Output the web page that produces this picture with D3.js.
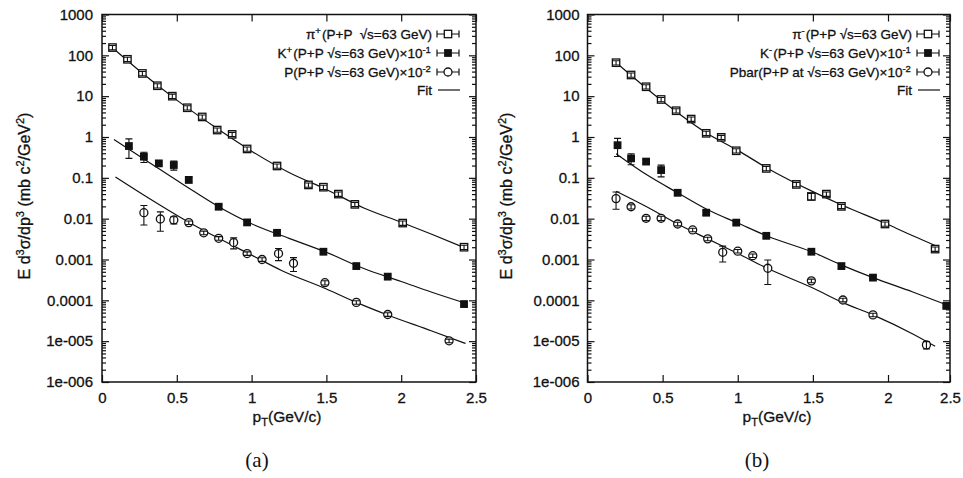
<!DOCTYPE html>
<html>
<head>
<meta charset="utf-8">
<script src="https://cdn.jsdelivr.net/npm/d3@7"></script>
<style>
body { margin: 0; background: #fff; }
svg text { font-family: "Liberation Sans", Arial, sans-serif; fill: #111; }
svg text.ink { stroke: #111; stroke-width: 0.3; }
</style>
</head>
<body>
<svg id="chart" width="963" height="478"></svg>
<script>
// values

// (a) pi+, K+ (x1e-1), p (x1e-2), P+P at sqrt(s)=63 GeV
var ptPiPlus  = [0.07, 0.17, 0.27, 0.37, 0.47, 0.57, 0.67, 0.77, 0.87, 0.97, 1.17, 1.38, 1.48, 1.58, 1.69, 2.01, 2.42];
var piPlus    = [155, 80, 36, 18, 10, 5.2, 3.1, 1.48, 1.16, 0.51, 0.195, 0.067, 0.059, 0.040, 0.0224, 0.0078, 0.0020];
var piPlusErr = [0.12, 0.12, 0.12, 0.12, 0.12, 0.12, 0.12, 0.12, 0.12, 0.12, 0.12, 0.12, 0.12, 0.12, 0.12, 0.12, 0.12];

var ptKPlus  = [0.18, 0.28, 0.38, 0.48, 0.58, 0.78, 0.97, 1.17, 1.48, 1.70, 1.91, 2.42];
var kPlus    = [0.60, 0.33, 0.226, 0.206, 0.089, 0.0196, 0.0081, 0.0045, 0.00155, 0.00069, 0.00038, 0.000081];
var kPlusErr = [0.5, 0.28, 0.1, 0.25, 0.15, 0.1, 0.1, 0.1, 0.1, 0.1, 0.1, 0.1];

var ptProton  = [0.28, 0.39, 0.48, 0.58, 0.68, 0.78, 0.88, 0.97, 1.07, 1.18, 1.28, 1.49, 1.70, 1.91, 2.32];
var proton    = [0.014, 0.0098, 0.0093, 0.0080, 0.0045, 0.0033, 0.0026, 0.0014, 0.0010, 0.0014, 0.00081, 0.00027, 0.000089, 0.000045, 0.0000102];
var protonErr = [0.5, 0.5, 0.2, 0.1, 0.1, 0.1, 0.3, 0.1, 0.1, 0.33, 0.37, 0.12, 0.1, 0.1, 0.1];

var fitPiPlusX = [0.06, 0.25, 0.5, 0.75, 1.0, 1.25, 1.5, 1.75, 2.0, 2.2, 2.43];
var fitPiPlusY = [165, 42, 8.0, 1.8, 0.45, 0.135, 0.052, 0.0183, 0.0082, 0.0042, 0.0019];
var fitKPlusX  = [0.08, 0.3, 0.55, 0.78, 1.0, 1.25, 1.5, 1.75, 2.0, 2.2, 2.43];
var fitKPlusY  = [0.87, 0.26, 0.066, 0.0196, 0.0075, 0.0033, 0.0015, 0.0006, 0.00029, 0.00016, 0.000085];
var fitProtonX = [0.09, 0.3, 0.58, 0.78, 1.0, 1.2, 1.5, 1.7, 1.9, 2.2, 2.43];
var fitProtonY = [0.105, 0.034, 0.0082, 0.0033, 0.00128, 0.00054, 0.00019, 0.000089, 0.000045, 0.000018, 0.0000088];

// (b) pi-, K- (x1e-1), pbar (x1e-2)
var ptPiMinus  = [0.19, 0.29, 0.39, 0.49, 0.59, 0.69, 0.79, 0.89, 0.99, 1.19, 1.39, 1.49, 1.59, 1.69, 1.98, 2.38];
var piMinus    = [66, 33, 17, 8.3, 4.4, 2.75, 1.23, 0.98, 0.46, 0.17, 0.069, 0.035, 0.040, 0.020, 0.0074, 0.0018];
var piMinusErr = [0.12, 0.12, 0.12, 0.12, 0.12, 0.12, 0.12, 0.12, 0.12, 0.12, 0.12, 0.18, 0.12, 0.12, 0.12, 0.12];

var ptKMinus  = [0.20, 0.29, 0.39, 0.49, 0.60, 0.79, 0.99, 1.19, 1.49, 1.69, 1.90, 2.47];
var kMinus    = [0.63, 0.30, 0.25, 0.155, 0.043, 0.014, 0.0080, 0.0038, 0.00155, 0.00069, 0.00036, 0.000073];
var kMinusErr = [0.47, 0.3, 0.1, 0.32, 0.1, 0.12, 0.1, 0.1, 0.1, 0.1, 0.1, 0.1];

var ptPbar  = [0.19, 0.29, 0.39, 0.49, 0.60, 0.70, 0.80, 0.90, 1.00, 1.10, 1.20, 1.49, 1.70, 1.90, 2.31];
var pbar    = [0.031, 0.0196, 0.0102, 0.0102, 0.0074, 0.0053, 0.0032, 0.0015, 0.0016, 0.00124, 0.00061, 0.00030, 0.000102, 0.000044, 0.0000081];
var pbarErr = [0.45, 0.12, 0.12, 0.12, 0.1, 0.1, 0.1, 0.42, 0.1, 0.1, 0.6, 0.1, 0.1, 0.1, 0.2];

var fitPiMinusX = [0.18, 0.5, 0.8, 1.0, 1.2, 1.5, 1.7, 2.0, 2.2, 2.38];
var fitPiMinusY = [72, 7.5, 1.2, 0.47, 0.17, 0.046, 0.021, 0.0072, 0.0038, 0.0022];
var fitKMinusX  = [0.19, 0.4, 0.6, 0.8, 1.0, 1.2, 1.5, 1.7, 1.9, 2.2, 2.46];
var fitKMinusY  = [0.39, 0.115, 0.043, 0.0165, 0.0078, 0.0037, 0.0015, 0.00071, 0.00036, 0.00016, 0.00008];
var fitPbarX    = [0.19, 0.4, 0.6, 0.8, 1.0, 1.2, 1.5, 1.7, 1.9, 2.2, 2.38];
var fitPbarY    = [0.047, 0.019, 0.0074, 0.0032, 0.0014, 0.0006, 0.0002, 0.000088, 0.000044, 0.000015, 0.0000075];

// ticks
var xTicks = [0, 0.5, 1, 1.5, 2, 2.5];
var xTickLabels = ["0", "0.5", "1", "1.5", "2", "2.5"];
var yTicks = [1e-6, 1e-5, 1e-4, 1e-3, 1e-2, 1e-1, 1, 10, 100, 1000];
var yTickLabels = ["1e-006", "1e-005", "0.0001", "0.001", "0.01", "0.1", "1", "10", "100", "1000"];

var svg = d3.select("#chart");
var top_ = 14.5, bottom = 382;

function zip(xs, ys, es) {
    return xs.map(function(v, i) { return {x: v, y: ys[i], e: es ? es[i] : 0}; });
}

function drawMarker(g, type, cx, cy) {
    if (type == "open-square") {
        g.append("rect").attr("x", cx - 3.7).attr("y", cy - 3.7).attr("width", 7.4).attr("height", 7.4)
            .attr("fill", "#fff").attr("stroke", "#111").attr("stroke-width", 1.3);
    } else if (type == "filled-square") {
        g.append("rect").attr("x", cx - 3.9).attr("y", cy - 3.9).attr("width", 7.8).attr("height", 7.8)
            .attr("fill", "#111");
    } else {
        g.append("circle").attr("cx", cx).attr("cy", cy).attr("r", 4)
            .attr("fill", "#fff").attr("stroke", "#111").attr("stroke-width", 1.3);
    }
}

function drawPanel(p) {
    var x = d3.scaleLinear().domain(p.xDomain).range(p.xRange);
    var y = d3.scaleLog().domain([1e-6, 1000]).range([bottom, top_]);
    var left = p.xRange[0], right = p.xRange[p.xRange.length - 1];
    var g = svg.append("g");

    var minor = [];
    for (var k = -6; k < 3; k++) for (var m = 2; m <= 9; m++) minor.push(m * Math.pow(10, k));

    function style(ax) {
        ax.select(".domain").remove();
        ax.attr("font-family", "Liberation Sans, Arial, sans-serif").attr("font-size", 15);
        ax.selectAll("line").attr("stroke", "#111").attr("stroke-width", 1.2);
        ax.selectAll("text").attr("fill", "#111").attr("class", "ink");
    }

    g.append("g").attr("transform", "translate(" + left + ",0)")
        .call(d3.axisLeft(y).tickValues(yTicks).tickFormat(function(d, i) { return yTickLabels[i]; })
            .tickSize(-7).tickPadding(p.yPad)).call(style);
    g.append("g").attr("transform", "translate(" + left + ",0)")
        .call(d3.axisLeft(y).tickValues(minor).tickFormat("").tickSize(-4)).call(style);
    g.append("g").attr("transform", "translate(" + right + ",0)")
        .call(d3.axisRight(y).tickValues(yTicks).tickFormat("").tickSize(-7)).call(style);
    g.append("g").attr("transform", "translate(" + right + ",0)")
        .call(d3.axisRight(y).tickValues(minor).tickFormat("").tickSize(-4)).call(style);
    g.append("g").attr("transform", "translate(0," + bottom + ")")
        .call(d3.axisBottom(x).tickValues(xTicks).tickFormat(function(d, i) { return xTickLabels[i]; })
            .tickSize(-7).tickPadding(10)).call(style);
    g.append("g").attr("transform", "translate(0," + top_ + ")")
        .call(d3.axisTop(x).tickValues(xTicks).tickFormat("").tickSize(-7)).call(style);

    g.append("rect").attr("x", left).attr("y", top_).attr("width", right - left).attr("height", bottom - top_)
        .attr("fill", "none").attr("stroke", "#111").attr("stroke-width", 1.5);

    // fits
    var line = d3.line().x(function(d) { return x(d.x); }).y(function(d) { return y(d.y); }).curve(d3.curveMonotoneX);
    p.fits.forEach(function(f) {
        g.append("path").datum(zip(f[0], f[1])).attr("d", line)
            .attr("fill", "none").attr("stroke", "#111").attr("stroke-width", 1.2);
    });

    // points with error bars
    p.series.forEach(function(s) {
        var sg = g.append("g");
        zip(s.x, s.y, s.err).forEach(function(d) {
            var cx = x(d.x), cy = y(d.y);
            drawMarker(sg, s.type, cx, cy);
            var y0 = y(d.y * (1 + d.e)), y1 = y(d.y * (1 - d.e));
            sg.append("path")
                .attr("d", "M" + cx + "," + y0 + "V" + y1 + "M" + (cx - 3.5) + "," + y0 + "H" + (cx + 3.5) +
                    "M" + (cx - 3.5) + "," + y1 + "H" + (cx + 3.5))
                .attr("fill", "none").attr("stroke", "#111").attr("stroke-width", 1.1);
        });
    });

    // legend
    var rowY = [34, 53, 72, 90];
    p.legend.forEach(function(item, i) {
        var ty = rowY[i];
        var t = g.append("text").attr("class", "ink").attr("x", p.legendX).attr("y", ty + 5).attr("text-anchor", "end")
            .attr("font-size", 13.5).style("white-space", "pre");
        item.parts.forEach(function(part) {
            if (typeof part == "string") {
                t.append("tspan").text(part);
            } else {
                t.append("tspan").attr("dy", -5).attr("font-size", 9.5).text(part.sup);
                t.append("tspan").attr("dy", 5).text("\u200a");
            }
        });
        var sx = p.legendX + 16;
        if (item.type == "fit") {
            g.append("line").attr("x1", sx - 10).attr("x2", sx + 12).attr("y1", ty).attr("y2", ty)
                .attr("stroke", "#111").attr("stroke-width", 1.2);
        } else {
            g.append("path").attr("d", "M" + (sx - 11) + "," + ty + "H" + (sx + 11) +
                    "M" + (sx - 11) + "," + (ty - 3.5) + "V" + (ty + 3.5) +
                    "M" + (sx + 11) + "," + (ty - 3.5) + "V" + (ty + 3.5))
                .attr("fill", "none").attr("stroke", "#111").attr("stroke-width", 1.2);
            drawMarker(g, item.type, sx, ty);
        }
    });

    // axis titles
    var xt = g.append("text").attr("class", "ink").attr("x", p.xTitleX).attr("y", 422)
        .attr("text-anchor", "middle").attr("font-size", 15.5);
    xt.append("tspan").text("p");
    xt.append("tspan").attr("dy", 4).attr("font-size", 11).text("T");
    xt.append("tspan").attr("dy", -4).text("(GeV/c)");

    var yt = g.append("text").attr("class", "ink").attr("transform", "translate(" + p.yTitleX + ",196) rotate(-90)")
        .attr("text-anchor", "middle").attr("font-size", 16);
    yt.append("tspan").text("E d");
    yt.append("tspan").attr("dy", -6).attr("font-size", 11).text("3");
    yt.append("tspan").attr("dy", 6).text("\u03c3/dp");
    yt.append("tspan").attr("dy", -6).attr("font-size", 11).text("3");
    yt.append("tspan").attr("dy", 6).text(" (mb c");
    yt.append("tspan").attr("dy", -6).attr("font-size", 11).text("2");
    yt.append("tspan").attr("dy", 6).text("/GeV");
    yt.append("tspan").attr("dy", -6).attr("font-size", 11).text("2");
    yt.append("tspan").attr("dy", 6).text(")");

    svg.append("text").attr("x", p.captionX).attr("y", 467).attr("text-anchor", "middle")
        .style("font-family", "'Liberation Serif', 'DejaVu Serif', serif").attr("font-size", 21).text(p.caption);
}

drawPanel({
    xDomain: [0, 2.5], xRange: [102, 476], yPad: 9,
    xTitleX: 287, yTitleX: 30, captionX: 257, caption: "(a)", legendX: 432,
    fits: [[fitPiPlusX, fitPiPlusY], [fitKPlusX, fitKPlusY], [fitProtonX, fitProtonY]],
    series: [
        {x: ptPiPlus, y: piPlus, err: piPlusErr, type: "open-square"},
        {x: ptKPlus, y: kPlus, err: kPlusErr, type: "filled-square"},
        {x: ptProton, y: proton, err: protonErr, type: "open-circle"}
    ],
    legend: [
        {type: "open-square", parts: ["\u03c0", {sup: "+"}, "(P+P  \u221as=63 GeV)"]},
        {type: "filled-square", parts: ["K", {sup: "+"}, "(P+P \u221as=63 GeV)\u00d710", {sup: "-1"}]},
        {type: "open-circle", parts: ["P(P+P \u221as=63 GeV)\u00d710", {sup: "-2"}]},
        {type: "fit", parts: ["Fit"]}
    ]
});

drawPanel({
    xDomain: [0, 2, 2.5], xRange: [587.5, 888, 950], yPad: 8,
    xTitleX: 777, yTitleX: 512, captionX: 757, caption: "(b)", legendX: 912,
    fits: [[fitPiMinusX, fitPiMinusY], [fitKMinusX, fitKMinusY], [fitPbarX, fitPbarY]],
    series: [
        {x: ptPiMinus, y: piMinus, err: piMinusErr, type: "open-square"},
        {x: ptKMinus, y: kMinus, err: kMinusErr, type: "filled-square"},
        {x: ptPbar, y: pbar, err: pbarErr, type: "open-circle"}
    ],
    legend: [
        {type: "open-square", parts: ["\u03c0", {sup: "-"}, "(P+P \u221as=63 GeV)"]},
        {type: "filled-square", parts: ["K", {sup: "-"}, "(P+P \u221as=63 GeV)\u00d710", {sup: "-1"}]},
        {type: "open-circle", parts: ["Pbar(P+P at \u221as=63 GeV)\u00d710", {sup: "-2"}]},
        {type: "fit", parts: ["Fit"]}
    ]
});
</script>
</body>
</html>
